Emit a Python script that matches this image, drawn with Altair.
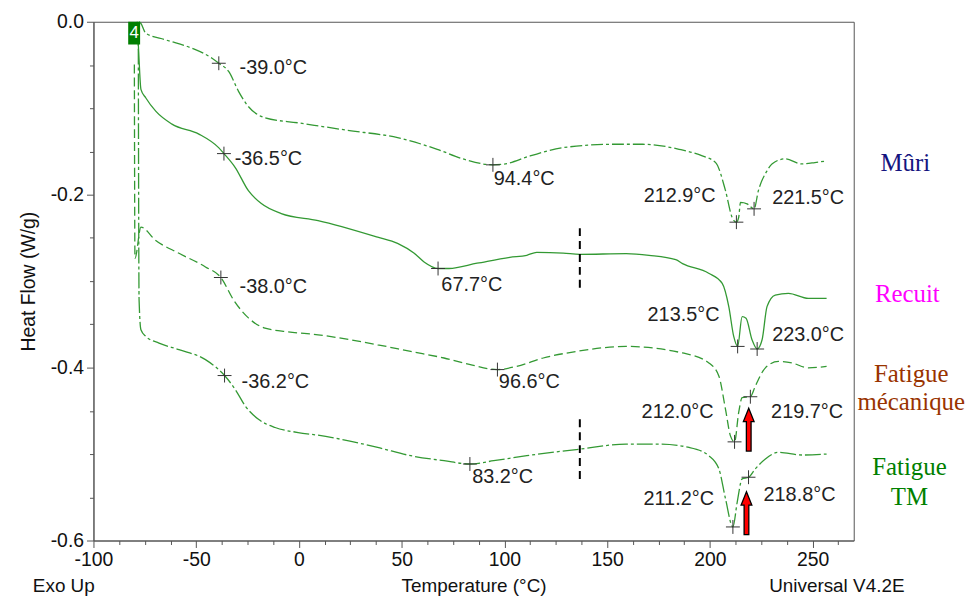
import altair as alt
import pandas as pd

SANS = "Liberation Sans, Arial, sans-serif"
SERIF = "Liberation Serif, Times New Roman, serif"
CURVE = "#339933"

# ---------------- axes ----------------
x_domain = [-100, 270]
y_domain = [-0.6, 0.0]
x_ticks = [-100, -87.5, -75, -62.5, -50, -37.5, -25, -12.5, 0, 12.5, 25, 37.5, 50, 62.5,
           75, 87.5, 100, 112.5, 125, 137.5, 150, 162.5, 175, 187.5, 200, 212.5, 225,
           237.5, 250, 262.5]
y_ticks = [0.0, -0.05, -0.1, -0.15, -0.2, -0.25, -0.3, -0.35, -0.4, -0.45, -0.5, -0.55, -0.6]

# ---------------- curves (Temperature °C, Heat Flow W/g) ----------------
muri_t = [-77.8, -76.9, -74.5, -64.8, -52.0, -42.3, -39.0, -34.2, -29.4, -25.4, -16.5, -0.4,
          23.8, 48.0, 67.3, 80.3, 94.4, 99.6, 112.5, 128.6, 152.8, 167.3, 185.0, 196.3,
          202.8, 207.6, 210.8, 212.9, 214.0, 214.9, 218.1, 221.5, 223.6, 227.8, 230.2,
          236.6, 244.7, 251.1, 256.8]
muri_h = [0.0, -0.002, -0.0134, -0.021, -0.0307, -0.0422, -0.048, -0.0575, -0.0805, -0.0957,
          -0.1111, -0.1169, -0.1256, -0.1341, -0.1475, -0.159, -0.1655, -0.1647, -0.1552,
          -0.1456, -0.1417, -0.1417, -0.1475, -0.1552, -0.1629, -0.1954, -0.2261, -0.2318,
          -0.2264, -0.2089, -0.2107, -0.2164, -0.1954, -0.1724, -0.1644, -0.1586, -0.1644,
          -0.1629, -0.1609]

recuit_t = [-78.7, -78.0, -76.9, -74.5, -69.7, -61.8, -48.7, -39.1, -36.5, -31.0, -24.6,
            -18.3, -8.6, 9.3, 38.3, 48.0, 56.1, 60.9, 67.7, 73.0, 86.7, 102.6, 110.9, 115.7,
            128.6, 136.7, 159.2, 170.4, 183.4, 186.7, 199.4, 206.0, 209.2, 211.6, 213.5,
            215.7, 217.6, 220.5, 223.0, 225.4, 227.8, 231.8, 238.2, 247.9, 256.8]
recuit_h = [0.0, -0.0345, -0.0782, -0.0882, -0.1034, -0.1184, -0.1299, -0.1456, -0.1525,
            -0.1686, -0.1954, -0.2103, -0.2218, -0.2299, -0.2491, -0.2563, -0.2678, -0.2778,
            -0.2854, -0.2854, -0.2793, -0.2724, -0.2701, -0.2667, -0.2675, -0.2690, -0.2682,
            -0.2701, -0.2751, -0.2797, -0.2908, -0.3026, -0.3295, -0.3640, -0.3755, -0.3410,
            -0.3429, -0.3678, -0.3785, -0.3678, -0.3295, -0.3161, -0.3141, -0.3199, -0.3199]

fm_t = [-80.1, -79.8, -76.9, -69.7, -58.4, -45.5, -38.0, -31.8, -24.6, -16.5, -5.2, 9.3,
        38.3, 54.4, 70.6, 83.4, 96.6, 106.0, 118.9, 135.1, 159.2, 186.7, 199.5, 204.4,
        207.6, 210.0, 212.0, 214.0, 215.7, 219.7, 222.1, 227.0, 233.4, 239.9, 247.9, 256.8]
fm_h = [-0.0494, -0.2736, -0.2376, -0.2529, -0.2678, -0.2836, -0.2958, -0.3218, -0.3425,
        -0.3544, -0.3586, -0.3621, -0.3736, -0.3813, -0.3889, -0.3966, -0.4023, -0.3985,
        -0.3889, -0.3813, -0.3755, -0.3831, -0.3946, -0.4100, -0.4483, -0.4790,
        -0.4859, -0.4521, -0.4348, -0.4337, -0.4215, -0.4003, -0.3928, -0.3946, -0.4003,
        -0.3985]

tm_t = [-78.2, -77.8, -76.9, -74.5, -68.1, -58.4, -45.5, -36.2, -31.0, -26.1, -19.7, -11.6,
        -0.4, 9.3, 38.3, 54.4, 70.6, 83.2, 94.8, 110.9, 136.7, 159.2, 175.3, 189.9, 199.5,
        204.4, 207.6, 211.2, 213.3, 215.7, 218.8, 222.1, 227.0, 233.4, 244.7, 256.8]
tm_h = [-0.0023, -0.3218, -0.3563, -0.3640, -0.3716, -0.3793, -0.3908, -0.4092, -0.4253,
        -0.4445, -0.4598, -0.4693, -0.4751, -0.4782, -0.4923, -0.5019, -0.5077, -0.5115,
        -0.5077, -0.5019, -0.4943, -0.4885, -0.4885, -0.4923, -0.5019, -0.5172, -0.5517,
        -0.5843, -0.5555, -0.5287, -0.5268, -0.5172, -0.5057, -0.4980, -0.5011, -0.5000]

# ---------------- marked points ----------------
cross_t = [-39.0, 94.4, 212.9, 221.5, -36.5, 67.7, 213.5, 223.0,
           -38.0, 96.6, 212.0, 219.7, -36.2, 83.2, 211.2, 218.8]
cross_h = [-0.048, -0.1655, -0.2318, -0.2164, -0.1525, -0.2854, -0.3755, -0.3785,
           -0.2958, -0.4023, -0.4859, -0.4337, -0.4092, -0.5115, -0.5843, -0.5268]

# annotation labels (left-aligned)
lab_l_text = ["-39.0°C", "-36.5°C", "-38.0°C", "-36.2°C", "94.4°C", "67.7°C", "96.6°C",
              "83.2°C", "221.5°C", "223.0°C", "219.7°C", "218.8°C"]
lab_l_t = [-28.9, -31.3, -28.9, -27.9, 94.8, 69.3, 97.3, 84.3, 230.3, 230.3, 229.8, 226.1]
lab_l_h = [-0.054, -0.1586, -0.3069, -0.4172, -0.1816, -0.3046, -0.4172, -0.5264,
           -0.2034, -0.3621, -0.4517, -0.5479]
# annotation labels (right-aligned)
lab_r_text = ["212.9°C", "213.5°C", "212.0°C", "211.2°C"]
lab_r_t = [202.8, 204.7, 201.8, 202.0]
lab_r_h = [-0.2011, -0.3391, -0.4517, -0.5517]

# sample names on the right
name_text = ["Mûri", "Recuit", "Fatigue", "mécanique", "Fatigue", "TM"]
name_t = [295.1, 296.1, 298.0, 298.0, 297.1, 297.1]
name_h = [-0.1629, -0.315, -0.408, -0.4402, -0.5149, -0.5494]
name_color = ["#14147f", "#ff00ff", "#993300", "#993300", "#008000", "#008000"]

# red arrows
arrow_t = [218.9, 217.8]
arrow_h = [-0.4718, -0.5684]

# dashed vertical markers
rule_t = [136.7, 136.7]
rule_top = [-0.2387, -0.4598]
rule_bot = [-0.3103, -0.5345]

# "4" badge
badge_t = [-83.1]
badge_t2 = [-77.3]
badge_h = [0.0]
badge_h2 = [-0.0264]

# corner texts
corner_text_l = ["Exo Up"]
corner_text_r = ["Universal V4.2E"]
corner_t_l = [-129.5]
corner_t_r = [294.7]
corner_h = [-0.6529]

# ---------------- encodings ----------------
xs = alt.Scale(domain=x_domain, nice=False, zero=False)
ys = alt.Scale(domain=y_domain, nice=False, zero=False)

x_axis = alt.Axis(
    values=x_ticks,
    labelExpr="datum.value % 50 === 0 ? replace(format(datum.value, 'd'), '\u2212', '-') : ''",
    tickSize={"condition": {"test": "datum.value % 50 === 0", "value": 7}, "value": 4},
    labelFlush=False, labelOverlap=False, grid=False,
    title="Temperature (°C)", titleFont=SANS, titleFontSize=19, titleFontWeight="normal",
    titleColor="#111", titlePadding=8,
    labelFont=SANS, labelFontSize=19.5, labelColor="#111", labelPadding=3,
    domainColor="#555", tickColor="#555",
)
y_axis = alt.Axis(
    values=y_ticks,
    labelExpr="abs(round(datum.value * 100)) % 20 === 0 ? replace(format(datum.value, '.1f'), '\u2212', '-') : ''",
    tickSize={"condition": {"test": "abs(round(datum.value * 100)) % 20 === 0", "value": 7}, "value": 4},
    labelFlush=False, labelOverlap=False, grid=False,
    title="Heat Flow (W/g)", titleFont=SANS, titleFontSize=19.5, titleFontWeight="normal",
    titleColor="#111", titlePadding=12,
    labelFont=SANS, labelFontSize=19.5, labelColor="#111", labelPadding=3,
    domainColor="#555", tickColor="#555",
)


def X(field="T"):
    return alt.X(f"{field}:Q", scale=xs, axis=x_axis)


def Y(field="H"):
    return alt.Y(f"{field}:Q", scale=ys, axis=y_axis)


def line_layer(t, h, dash):
    df = pd.DataFrame({"T": t, "H": h, "i": list(range(len(t)))})
    kw = dict(color=CURVE, strokeWidth=1.3, interpolate="monotone")
    if dash:
        kw["strokeDash"] = dash
    return alt.Chart(df).mark_line(**kw).encode(x=X(), y=Y(), order="i:Q")


layers = [
    line_layer(muri_t, muri_h, [12, 3, 3, 3]),
    line_layer(recuit_t, recuit_h, None),
    line_layer(fm_t, fm_h, [9, 4]),
    line_layer(tm_t, tm_h, [16, 3, 3, 3]),
]

# dashed markers
layers.append(
    alt.Chart(pd.DataFrame({"T": rule_t, "H": rule_top, "H2": rule_bot}))
    .mark_rule(color="black", strokeWidth=2, strokeDash=[8, 5])
    .encode(x=X(), y=Y(), y2="H2:Q")
)

# crosses
layers.append(
    alt.Chart(pd.DataFrame({"T": cross_t, "H": cross_h}))
    .mark_point(shape="M-1,0L1,0M0,-1L0,1", size=196, filled=False, color="#333",
                strokeWidth=1, opacity=1)
    .encode(x=X(), y=Y())
)

# annotation texts
layers.append(
    alt.Chart(pd.DataFrame({"T": lab_l_t, "H": lab_l_h, "txt": lab_l_text}))
    .mark_text(align="left", baseline="middle", font=SANS, fontSize=20, color="#222")
    .encode(x=X(), y=Y(), text="txt:N")
)
layers.append(
    alt.Chart(pd.DataFrame({"T": lab_r_t, "H": lab_r_h, "txt": lab_r_text}))
    .mark_text(align="right", baseline="middle", font=SANS, fontSize=20, color="#222")
    .encode(x=X(), y=Y(), text="txt:N")
)

# sample names
layers.append(
    alt.Chart(pd.DataFrame({"T": name_t, "H": name_h, "txt": name_text, "c": name_color}))
    .mark_text(align="center", baseline="middle", font=SERIF, fontSize=25)
    .encode(x=X(), y=Y(), text="txt:N", color=alt.Color("c:N", scale=None))
)

# arrows
ARROW = "M0,-1L0.25,-0.38L0.11,-0.38L0.11,1L-0.11,1L-0.11,-0.38L-0.25,-0.38Z"
layers.append(
    alt.Chart(pd.DataFrame({"T": arrow_t, "H": arrow_h}))
    .mark_point(shape=ARROW, size=1850, filled=True, fill="#ff0000", stroke="black",
                strokeWidth=1.3, opacity=1)
    .encode(x=X(), y=Y())
)

# badge
layers.append(
    alt.Chart(pd.DataFrame({"T": badge_t, "T2": badge_t2, "H": badge_h, "H2": badge_h2}))
    .mark_rect(color="#007f00")
    .encode(x=X(), x2="T2:Q", y=Y(), y2="H2:Q")
)
layers.append(
    alt.Chart(pd.DataFrame({"T": [(badge_t[0] + badge_t2[0]) / 2],
                            "H": [(badge_h[0] + badge_h2[0]) / 2], "txt": ["4"]}))
    .mark_text(align="center", baseline="middle", font=SANS, fontSize=17, color="white")
    .encode(x=X(), y=Y(), text="txt:N")
)

# corner texts
layers.append(
    alt.Chart(pd.DataFrame({"T": corner_t_l, "H": corner_h, "txt": corner_text_l}))
    .mark_text(align="left", baseline="middle", font=SANS, fontSize=19, color="#111")
    .encode(x=X(), y=Y(), text="txt:N")
)
layers.append(
    alt.Chart(pd.DataFrame({"T": corner_t_r, "H": corner_h, "txt": corner_text_r}))
    .mark_text(align="right", baseline="middle", font=SANS, fontSize=19, color="#111")
    .encode(x=X(), y=Y(), text="txt:N")
)

chart = (
    alt.layer(*layers)
    .properties(
        width=765,
        height=522,
        autosize=alt.AutoSizeParams(type="none"),
        padding={"left": 86, "top": 12, "right": 117, "bottom": 56},
        background="white",
    )
    .configure_view(stroke="#555", strokeWidth=1)
)

chart.save("out.html", embed_options={"renderer": "svg", "actions": False})
